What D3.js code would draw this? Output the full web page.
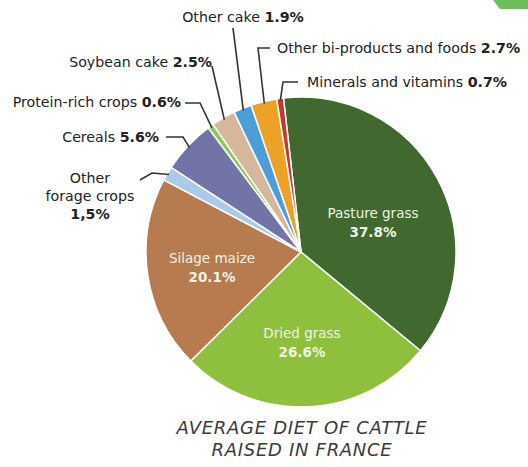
<!DOCTYPE html>
<html><head><meta charset="utf-8">
<script src="https://cdn.jsdelivr.net/npm/d3@7"></script>
<style>
html,body{margin:0;padding:0;background:#fff;}
svg{display:block;}
text{font-family:"DejaVu Sans",sans-serif;}
</style></head>
<body>
<svg id="chart" width="528" height="467"></svg>
<script>
// ---- data ----
const categories = ["Pasture grass","Dried grass","Silage maize","Other forage crops","Cereals","Protein-rich crops","Soybean cake","Other cake","Other bi-products and foods","Minerals and vitamins"];
const values = [37.8, 26.6, 20.1, 1.5, 5.6, 0.6, 2.5, 1.9, 2.7, 0.7];
const valueLabels = ["37.8%","26.6%","20.1%","1,5%","5.6%","0.6%","2.5%","1.9%","2.7%","0.7%"];
const colors = ["#40682f","#8fc03d","#b67b4f","#aacbe8","#7274a8","#8cc860","#d5b79b","#4b9fd6","#eda126","#c43a2a"];
const captionLines = ["AVERAGE DIET OF CATTLE","RAISED IN FRANCE"];

// ---- layout ----
const cx = 301, cy = 252, R = 155;
const startDeg = -6.5;
const innerLabels = {0:[373,213], 1:[302,333], 2:[212,258]};
const outerLabels = {
  3:{lines:[["Other",""],["forage crops",""],["","1,5%"]], x:90, y:178, anchor:"middle", elbow:[[152,173],[140,180]]},
  4:{lines:[["Cereals ","5.6%"]], x:159, y:137, anchor:"end", elbow:[[183,137],[166,137]]},
  5:{lines:[["Protein-rich crops  ","0.6%"]], x:181, y:102, anchor:"end", elbow:[[200,103],[185,103]]},
  6:{lines:[["Soybean cake ","2.5%"]], x:212, y:62, anchor:"end", elbow:[[212,66]]},
  7:{lines:[["Other cake ","1.9%"]], x:243, y:17, anchor:"middle", elbow:[[233,28]]},
  8:{lines:[["Other bi-products and foods ","2.7%"]], x:277, y:48, anchor:"start", elbow:[[258,48],[270,48]]},
  9:{lines:[["Minerals and vitamins ","0.7%"]], x:307, y:82, anchor:"start", elbow:[[283,82],[298,82]]}
};

const svg = d3.select("#chart");

// green corner tab
svg.append("path").attr("d","M493,0 L528,0 L528,9 L500,9 Z").attr("fill","#6dbd5a");

const pie = d3.pie().sort(null).value(d=>d)
  .startAngle(startDeg*Math.PI/180).endAngle((startDeg+360)*Math.PI/180);
const arcs = pie(values);
const arc = d3.arc().innerRadius(0).outerRadius(R);

const g = svg.append("g").attr("transform",`translate(${cx},${cy})`);
g.selectAll("path.slice").data(arcs).join("path")
  .attr("class","slice")
  .attr("d",arc)
  .attr("fill",(d,i)=>colors[i])
  .attr("stroke","#fff").attr("stroke-width",1.5).attr("stroke-linejoin","round");

// inner labels
Object.entries(innerLabels).forEach(([i,[x,y]])=>{
  const t = svg.append("text").attr("x",x).attr("y",y).attr("text-anchor","middle")
    .attr("fill","#eef2e6").attr("font-size",13.5);
  t.append("tspan").attr("x",x).attr("dy","0.35em").text(categories[i]);
  t.append("tspan").attr("x",x).attr("dy","1.4em").attr("font-weight","bold").text(valueLabels[i]);
});

// outer labels with leaders
const line = d3.line();
Object.entries(outerLabels).forEach(([i,o])=>{
  const a = arcs[i];
  const mid = (a.startAngle+a.endAngle)/2;
  const ax = cx + (R-2)*Math.sin(mid), ay = cy - (R-2)*Math.cos(mid);
  const pts = [[ax,ay], ...o.elbow];
  svg.append("path").attr("d",line(pts)).attr("fill","none")
    .attr("stroke","#333").attr("stroke-width",1.6);
  o.lines.forEach((ln,k)=>{
    const t = svg.append("text").attr("x",o.x).attr("y",o.y+k*18).attr("dy","0.35em")
      .attr("text-anchor",o.anchor).attr("fill","#222").attr("font-size",14.2);
    if(ln[0]) t.append("tspan").text(ln[0]);
    if(ln[1]) t.append("tspan").attr("font-weight","bold").text(ln[1]);
  });
});

// caption
captionLines.forEach((c,k)=>{
  svg.append("text").attr("x",302).attr("y",428+k*22).attr("dy","0.35em")
    .attr("text-anchor","middle").attr("font-style","italic").attr("font-size",18)
    .attr("letter-spacing",0.7)
    .attr("fill","#3a3a3a").text(c);
});
</script>
</body></html>
